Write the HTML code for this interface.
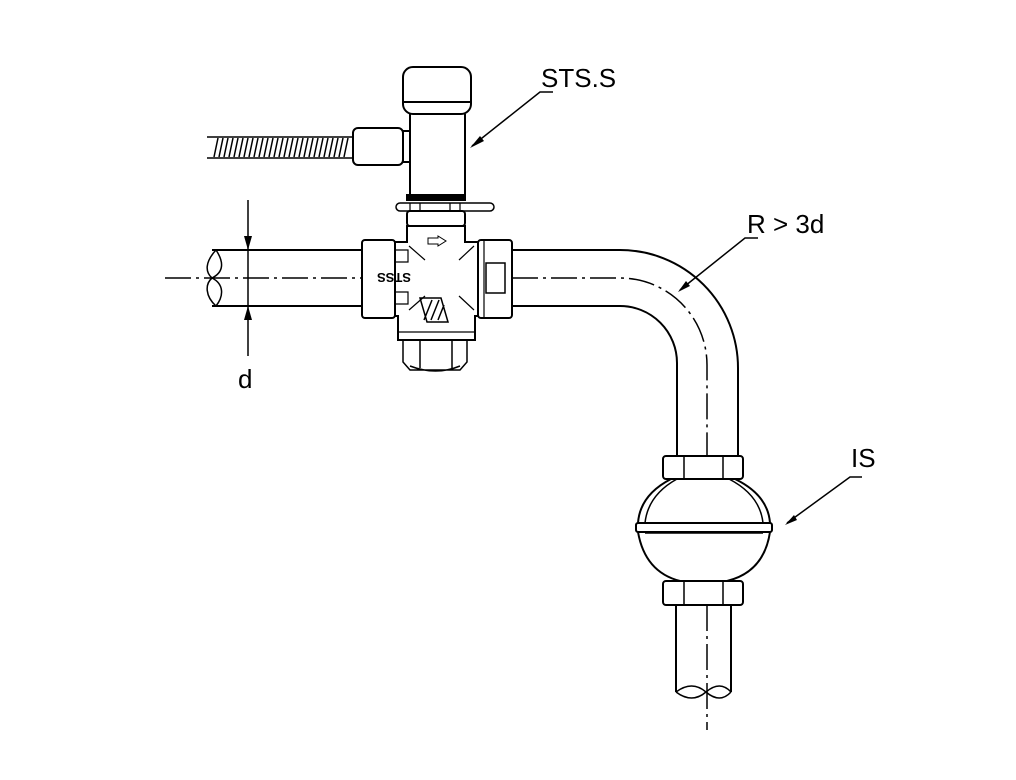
<!DOCTYPE html>
<html><head><style>html,body{margin:0;padding:0;background:#fff}svg{display:block}</style></head><body>
<svg width="1016" height="780" viewBox="0 0 1016 780" xmlns="http://www.w3.org/2000/svg" font-family="Liberation Sans, sans-serif">
<g fill="none" stroke="#000" stroke-width="2">
<line x1="212" y1="250" x2="362" y2="250"/>
<line x1="212" y1="306" x2="362" y2="306"/>
<path d="M216 250 C205 262,205 272,212 278 C205 284,205 296,216 306" stroke-width="1.5"/>
<path d="M216 250 C224 262,224 272,212 278 C224 284,224 296,216 306" stroke-width="1.5"/>
<path d="M512 250 L620 250 A118 118 0 0 1 738 368 L738 456"/>
<path d="M512 306 L620 306 A57 57 0 0 1 677 363 L677 456"/>
<path d="M165 278 L362 278 M512 278 L620 278 A87 87 0 0 1 707 365 L707 456 M707 605 L707 730" stroke-width="1.5" stroke-dasharray="26 5 3 5"/>
<line x1="248" y1="200" x2="248" y2="356" stroke-width="1.5"/>
<rect x="362" y="240" width="33" height="78" rx="3"/>
<rect x="478" y="240" width="34" height="78" rx="3"/>
<line x1="484" y1="241" x2="484" y2="317" stroke-width="1.2"/>
<rect x="486" y="263" width="19" height="30" stroke-width="1.5"/>
<path d="M395 242 L407 242 L407 226 L465 226 L465 242 L478 242 M395 316 L398 316 L398 340 L475 340 L475 316 L478 316" />
<path d="M395 250 L408 250 L408 262 L395 262 M395 292 L408 292 L408 304 L395 304" stroke-width="1.2"/>
<path d="M409 246 L425 260 M409 310 L425 296 M474 246 L459 260 M474 310 L459 296" stroke-width="1.2"/>
<path d="M398 332 L475 332" stroke-width="1.2"/>
<path d="M403 340 L403 362 L410 370 L460 370 L467 362 L467 340 M420 340 L420 368 M452 340 L452 368 M410 366 Q436 376 460 366" stroke-width="1.5"/>
<path d="M428 238 L438 238 L438 236 L446 241 L438 246 L438 244 L428 244 Z" stroke-width="1"/>
<path d="M420 298 L441 298 L448 322 L427 322 Z M424 320 L432 300 M431 320 L439 300 M438 320 L444 305" stroke-width="1.5"/>
<rect x="407" y="211" width="58" height="15" rx="3"/>
<rect x="396" y="203" width="98" height="8" rx="4" stroke-width="1.5"/>
<path d="M410 203 L410 211 M420 203 L420 211 M450 203 L450 211 M460 203 L460 211" stroke-width="1.2"/>
<rect x="407" y="195" width="58" height="5" fill="#000"/>
<path d="M410 114 L410 195 M465 114 L465 195"/>
<rect x="403" y="67" width="68" height="47" rx="10"/>
<line x1="403" y1="102" x2="471" y2="102"/>
<rect x="353" y="128" width="50" height="37" rx="5"/>
<rect x="403" y="131" width="7" height="31"/>
<line x1="207" y1="137" x2="353" y2="137" stroke-width="1.5"/>
<line x1="207" y1="158" x2="353" y2="158" stroke-width="1.5"/>
</g>
<g stroke="#000" stroke-width="1.5">
<path d="M214 157 L218 138 M219 157 L223 138 M224 157 L228 138 M229 157 L233 138 M234 157 L238 138 M239 157 L243 138 M244 157 L248 138 M249 157 L253 138 M254 157 L258 138 M259 157 L263 138 M264 157 L268 138 M269 157 L273 138 M274 157 L278 138 M279 157 L283 138 M284 157 L288 138 M289 157 L293 138 M294 157 L298 138 M299 157 L303 138 M304 157 L308 138 M309 157 L313 138 M314 157 L318 138 M319 157 L323 138 M324 157 L328 138 M329 157 L333 138 M334 157 L338 138 M339 157 L343 138 M344 157 L348 138"/>
</g>
<g fill="none" stroke="#000" stroke-width="2">
<rect x="663" y="456" width="80" height="23" rx="3"/>
<path d="M684 456 L684 479 M723 456 L723 479" stroke-width="1.5"/>
<path d="M671 479 Q640 495 638 523 M735 479 Q768 495 770 523"/>
<path d="M677 479 Q648 495 645 523 M729 479 Q760 495 763 523" stroke-width="1.5"/>
<rect x="636" y="523" width="136" height="9" rx="2"/>
<line x1="645" y1="533" x2="763" y2="533" stroke-width="1.5"/>
<path d="M638 532 Q645 572 680 581 L727 581 Q764 572 770 532"/>
<rect x="663" y="581" width="80" height="24" rx="3"/>
<path d="M684 581 L684 605 M723 581 L723 605" stroke-width="1.5"/>
<path d="M676 605 L676 692 M731 605 L731 692"/>
<path d="M676 692 Q692 680 706 692 Q720 704 731 692 M676 692 Q692 704 706 692 Q720 680 731 692" stroke-width="1.5"/>
</g>
<g fill="none" stroke="#000" stroke-width="1.5">
<path d="M553 92 L540 92 L472 146"/>
<path d="M758 238 L745 238 L680 290"/>
<path d="M862 477 L850 477 L787 523"/>
</g>
<g fill="#000">
<path d="M470 148 L480 136 L484 141 Z"/>
<path d="M678 292 L686 281 L690 286 Z"/>
<path d="M785 525 L794 515 L797 520 Z"/>
<path d="M248 250 L244 236 L252 236 Z"/>
<path d="M248 306 L244 320 L252 320 Z"/>
</g>
<g font-size="26" fill="#000">
<text x="541" y="87">STS.S</text>
<text x="747" y="233">R &gt; 3d</text>
<text x="851" y="467">IS</text>
<text x="238" y="388">d</text>
</g>
<text x="385" y="283" font-size="13" font-weight="bold" transform="rotate(180 398 278)">STSS</text>
</svg>
</body></html>
